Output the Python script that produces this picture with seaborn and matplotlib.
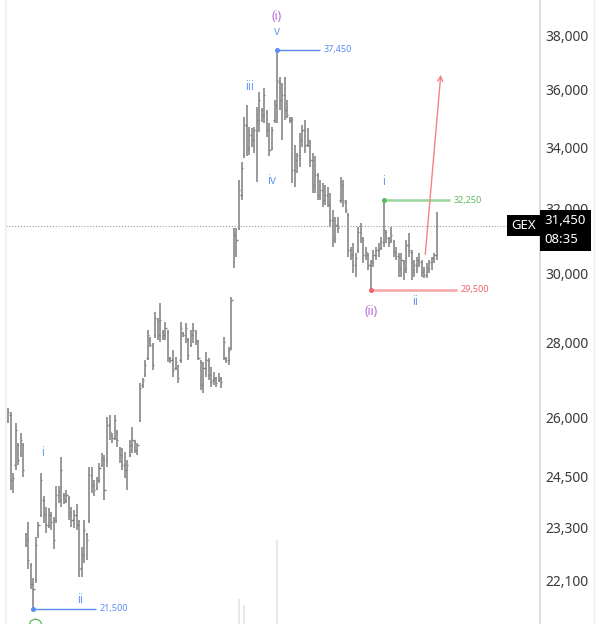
import matplotlib
matplotlib.use("Agg")
import matplotlib.pyplot as plt
import matplotlib.ticker as mticker
import matplotlib.transforms as mtrans
from matplotlib.lines import Line2D
import numpy as np
import seaborn as sns

# daily OHLC
opens = [25930, 26060, 24430, 24800, 25300, 25050, 25300, 23140, 23020, 22460,
         22020, 22130, 23140, 23600, 23950, 23600, 23370, 23600, 23480, 23480,
         24070, 23950, 24070, 23950, 24000, 23670, 23480, 23600, 23370, 22390,
         22680, 23140, 23480, 24560, 24310, 24240, 24430, 24800, 24920, 24920,
         25800, 25550, 25470, 25630, 25220, 25050, 24800, 24680, 25050, 25300,
         25370, 25170, 25930, 26850, 27120, 27580, 28080, 27940, 28220, 28640,
         28220, 28300, 28220, 28300, 27580, 27520, 27310, 27390, 27520, 28270,
         28220, 28080, 27940, 28220, 28300, 28020, 27470, 26850, 27310, 27520,
         27120, 26980, 27040, 26980, 27040, 27580, 27580, 27520, 27850, 30340,
         31160, 31380, 32420, 33730, 34750, 33970, 34410, 34240, 34580, 34930,
         35270, 35100, 35200, 34580, 33970, 34930, 35450, 36270, 35630, 35800,
         35270, 35000, 34930, 33240, 33570, 33630, 34240, 34580, 34070, 34170,
         33570, 32740, 33070, 32420, 32580, 32260, 32420, 32100, 31630, 31070,
         31470, 32260, 32740, 32200, 31780, 30700, 30550, 30250, 30700, 31250,
         31000, 30550, 30550, 30250, 30340, 30550, 30700, 30760, 30940, 31250,
         31070, 31000, 30940, 30640, 30520, 30160, 30340, 30160, 30850, 30640,
         30100, 30250, 30400, 30340, 30100, 29950, 30160, 30340, 30460, 30550]
highs = [26240, 26140, 24600, 25860, 25350, 25600, 25350, 23180, 23440, 22500,
         22170, 23090, 23440, 24600, 24030, 23790, 23760, 23670, 23550, 24270,
         24270, 25000, 24120, 24190, 24030, 23790, 23720, 23840, 23480, 22860,
         23480, 23180, 24750, 24750, 24430, 24510, 24850, 25100, 25050, 26010,
         26060, 25600, 26060, 25680, 25250, 25220, 25120, 24920, 25420, 25750,
         25420, 25350, 26900, 27040, 27520, 28360, 28160, 27990, 28870, 28700,
         29130, 28360, 28580, 28360, 27610, 27800, 27610, 27390, 28580, 28300,
         28550, 28130, 28360, 28550, 28360, 28080, 27520, 27470, 27740, 27580,
         27330, 27200, 27060, 27170, 27060, 28160, 27610, 27880, 29300, 31380,
         31380, 32910, 33500, 35030, 35450, 34680, 34650, 34680, 35380, 35910,
         35340, 36050, 35270, 34820, 34680, 35630, 37450, 36450, 36230, 36450,
         35630, 35030, 35030, 34070, 33800, 34480, 34750, 34930, 34650, 34240,
         33800, 33700, 33140, 32910, 32810, 32740, 32680, 32480, 31940, 31720,
         31720, 33000, 32910, 32260, 31850, 30790, 30910, 30610, 31410, 31530,
         31100, 30790, 30610, 30400, 30700, 30790, 30910, 31100, 32250, 31310,
         31100, 31410, 31000, 30790, 30610, 30610, 30400, 31000, 31220, 30700,
         30400, 30490, 30610, 30400, 30190, 30310, 30400, 30490, 30610, 31880]
lows = [25860, 24190, 24120, 24680, 24800, 25000, 24510, 22860, 22350, 21910,
        21500, 22060, 23070, 23550, 23410, 23180, 23300, 23250, 22800, 23410,
        23880, 23790, 23840, 23880, 23480, 23320, 23300, 23250, 22190, 22190,
        22500, 22570, 23410, 24120, 24030, 24190, 24360, 24750, 23950, 24750,
        25420, 25350, 25420, 25250, 24850, 24680, 24480, 24190, 25000, 25100,
        25100, 25050, 25880, 26770, 27060, 27520, 27880, 27250, 28130, 28080,
        28020, 28080, 28080, 27470, 27440, 27060, 27250, 26900, 27440, 28160,
        27990, 27520, 27880, 27990, 27940, 27520, 26720, 26640, 27060, 26980,
        26800, 26850, 26800, 26930, 26770, 27520, 27440, 27390, 27800, 30160,
        30490, 31310, 32260, 33630, 33700, 33730, 34000, 33800, 32840, 34510,
        34860, 34820, 34340, 33700, 33900, 34820, 34820, 35270, 34240, 34930,
        35000, 34820, 32810, 32680, 33140, 33330, 34000, 33800, 34000, 33330,
        32480, 32480, 32260, 32260, 32040, 32100, 32040, 31410, 30790, 30910,
        31220, 32160, 32040, 31850, 30490, 30400, 30010, 29890, 30610, 30910,
        30310, 30400, 30100, 29500, 30190, 30400, 30490, 30700, 30790, 30910,
        30790, 30910, 30490, 30400, 29890, 29890, 29800, 30010, 30490, 29800,
        29890, 30010, 30190, 29890, 29860, 29860, 30010, 30100, 30310, 30400]
closes = [26140, 24430, 24480, 25680, 24920, 25420, 24680, 22910, 22570, 22020,
          21910, 22910, 23370, 24430, 23600, 23370, 23600, 23440, 23020, 24070,
          24150, 24680, 23910, 24070, 23600, 23480, 23600, 23370, 22350, 22680,
          23250, 23020, 24560, 24310, 24190, 24430, 24730, 24970, 24190, 25800,
          25630, 25470, 25930, 25420, 25050, 24800, 24680, 24800, 25300, 25420,
          25170, 25300, 26770, 26980, 27390, 28220, 27940, 27390, 28700, 28220,
          28640, 28220, 28410, 27580, 27520, 27250, 27470, 27040, 28410, 28220,
          28410, 27660, 28220, 28360, 28080, 27580, 26850, 27310, 27520, 27120,
          26930, 27040, 26900, 27040, 26930, 28020, 27520, 27800, 29210, 31160,
          31000, 32580, 33300, 34750, 33900, 34410, 34240, 34580, 34930, 35630,
          35100, 35800, 34580, 33900, 34580, 35450, 36340, 35630, 35800, 35270,
          35100, 34930, 33240, 33570, 33730, 34240, 34580, 34070, 34240, 33570,
          32740, 33070, 32420, 32580, 32260, 32420, 32100, 31630, 31000, 31470,
          31380, 32740, 32260, 31940, 30700, 30550, 30250, 30460, 31250, 31070,
          30550, 30640, 30250, 30340, 30550, 30700, 30760, 30940, 31310, 31070,
          30940, 31160, 30640, 30520, 30100, 30400, 30100, 30850, 30700, 30040,
          30250, 30400, 30340, 30040, 29950, 30160, 30340, 30460, 30550, 31450]

y_ticks = [38000, 36000, 34000, 32000, 30000, 28000, 26000, 24500, 23300, 22100]

# wave labels: (text, bar index, price, colour key)
wave_labels = [("(i)", 106, 38720, "purple"), ("v", 106, 38150, "blue"),
               ("iii", 95, 36090, "blue"), ("iv", 104, 32900, "blue"),
               ("i", 148, 32840, "blue"), ("ii", 160.3, 29150, "blue"),
               ("(ii)", 143, 28870, "purple"), ("i", 13.8, 25100, "blue"),
               ("ii", 28.4, 21700, "blue")]

# price levels: (price, start bar, end bar, label, line colour, text colour, width)
levels = [(37450, 106, 122.9, "37,450", "#5b8ef4", "#5b8ef4", 1.0),
          (21500, 10, 34.7, "21,500", "#5b8ef4", "#5b8ef4", 1.0),
          (32250, 148, 174.1, "32,250", "#9ad59c", "#5fb862", 1.8),
          (29500, 143, 176.9, "29,500", "#f8a3a8", "#f0606a", 1.8)]

target_from = (164.3, 30480)
target_to = (170.6, 36630)
last_price = 31450

vol_idx = [91, 93, 106]
vol_frac = [0.04, 0.03, 0.135]

sns.set_theme(style="white")
plt.rcParams['font.family'] = ['Noto Sans', 'DejaVu Sans']

fig = plt.figure(figsize=(6.0, 6.24), dpi=100)
ax = fig.add_axes([6 / 600, 0, 534 / 600, 1])

idx = np.arange(len(closes))
bar_col = "#7d7d7d"
ax.vlines(idx, lows, highs, color=bar_col, lw=1.1)
ax.hlines(opens, idx - 0.45, idx, color=bar_col, lw=1.0)
ax.hlines(closes, idx, idx + 0.45, color=bar_col, lw=1.0)

blend = mtrans.blended_transform_factory(ax.transData, ax.transAxes)
ax.vlines(vol_idx, 0, vol_frac, transform=blend, colors="#e4e4e4", lw=1.2)

ax.axhline(last_price, color="#9a9ca3", ls=(0, (1, 1.6)), lw=0.8)

for price, x0, x1, txt, lc, tc, lw in levels:
    ax.hlines(price, x0, x1, color=lc, lw=lw)
    ax.plot(x0, price, "o", ms=2.6, color=lc if lw < 1.5 else tc)
    ax.text(x1 + 1.5, price, txt, color=tc, fontsize=6.5, va="center", ha="left")

cols = {"blue": "#6b9cf6", "purple": "#b366d6"}
for txt, xi, price, ck in wave_labels:
    ax.text(xi, price, txt, color=cols[ck], fontsize=8.5, fontweight="bold",
            ha="center", va="center")

ax.annotate("", xy=target_to, xytext=target_from,
            arrowprops=dict(arrowstyle="->", color="#f4838a", lw=1.0, mutation_scale=9))

ax.plot(10.6, 21150, "o", ms=9, mfc="none", mec="#66bb6a", mew=1.0)

ax.set_yscale("log")
ax.set_ylim(21172, 39344)
ax.set_xlim(-0.79, 209.6)
ax.yaxis.tick_right()
ax.yaxis.set_major_locator(mticker.FixedLocator(y_ticks))
ax.yaxis.set_minor_locator(mticker.NullLocator())
ax.set_yticklabels([f"{t:,}" for t in y_ticks])
ax.tick_params(axis="y", length=0, pad=4, labelsize=10, labelcolor="#3b3b3b")
ax.set_xticks([])
for s in ["top", "bottom"]:
    ax.spines[s].set_visible(False)
ax.spines["right"].set_color("#d9d9d9")
ax.spines["left"].set_color("#efefef")
ax.grid(False)

# last price tags
ytr = mtrans.blended_transform_factory(ax.transAxes, ax.transData)
ax.annotate("GEX", xy=(1.0, last_price), xycoords=ytr, xytext=(-3, 0),
            textcoords="offset points", ha="right", va="center", color="white",
            fontsize=9.5, fontweight="bold",
            bbox=dict(boxstyle="square,pad=0.3", fc="black", ec="none"))
ax.annotate("31,450\n08:35", xy=(1.0, last_price), xycoords=ytr, xytext=(3.5, 8),
            textcoords="offset points", ha="left", va="top", color="white",
            fontsize=9.5, linespacing=1.6, annotation_clip=False,
            bbox=dict(boxstyle="square,pad=0.35", fc="black", ec="none"))

fig.add_artist(Line2D([594 / 600, 594 / 600], [0, 1], color="#ededed", lw=1))

fig.savefig("out.png", dpi=100, facecolor="white")
